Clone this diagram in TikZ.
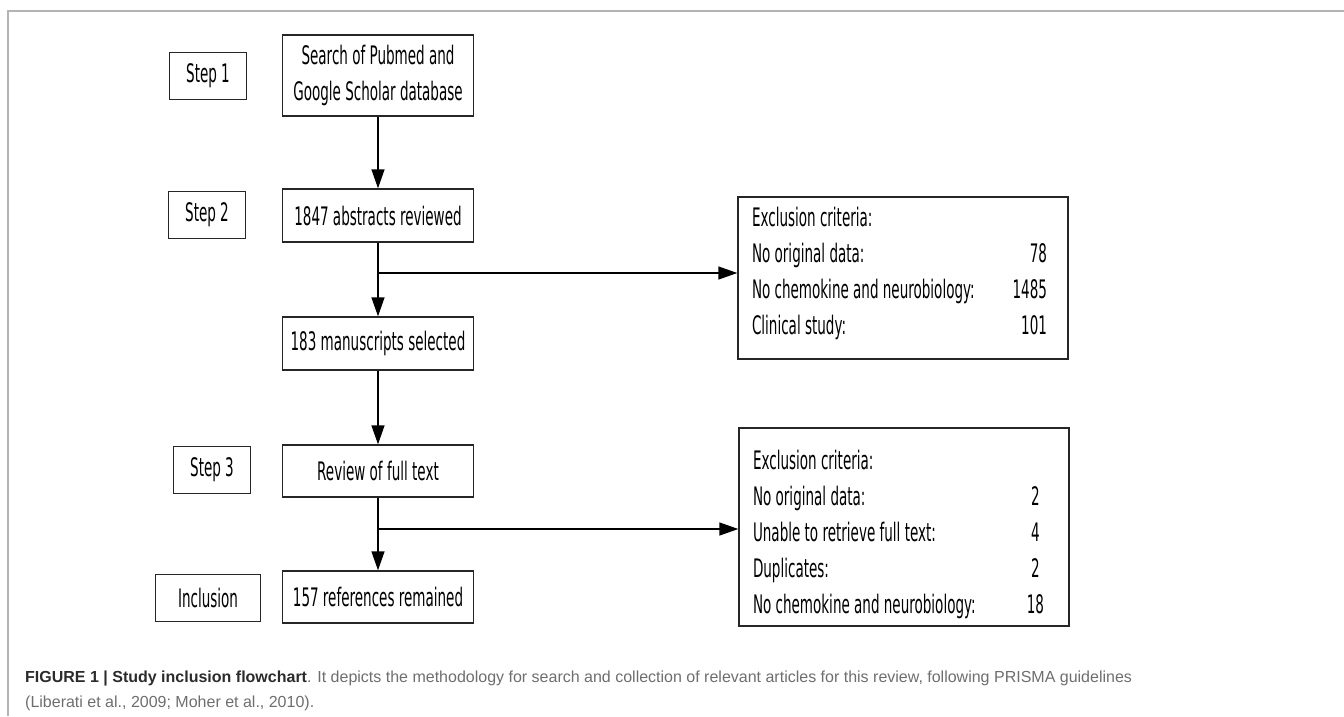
\documentclass[tikz,border=0pt]{standalone}
\usepackage{fontspec}
\setmainfont{Liberation Sans}
\newfontfamily\boxfont[FakeStretch=0.53]{DejaVu Sans}
\usetikzlibrary{arrows.meta}
\definecolor{framegray}{HTML}{B4B4B4}
\definecolor{capdark}{HTML}{2B2B2B}
\definecolor{caplight}{HTML}{6E6E6E}
\begin{document}
\begin{tikzpicture}[x=1pt,y=-1pt,
    box/.style={draw=black!85,line width=1.4pt,minimum width=191pt,minimum height=53pt,
      inner sep=0pt,align=center,font=\boxfont\fontsize{25.5}{36}\selectfont},
    stepbox/.style={box,minimum width=77pt,minimum height=47pt},
    exbox/.style={draw=black!85,line width=1.4pt,minimum width=330pt,inner xsep=14pt,
      font=\boxfont\fontsize{25.5}{36}\selectfont},
    arr/.style={line width=1.4pt,-{Triangle[length=19pt,width=13pt]}}]
  \useasboundingbox (0,0) rectangle (1344,716);
  \draw[framegray,line width=2pt] (8,716) -- (8,11) -- (1344,11);
  \node[stepbox] (step1) at (208,76) {Step 1};
  \node[stepbox] (step2) at (207,215) {Step 2};
  \node[stepbox] (step3) at (212,470) {Step 3};
  \node[stepbox,minimum width=105pt] (inclusion) at (208,598) {Inclusion};
  \node[box,minimum height=81pt] (search) at (378,75.5) {Search of Pubmed and\\Google Scholar database};
  \node[box] (abstracts) at (378,215.5) {1847 abstracts reviewed};
  \node[box] (manuscripts) at (378,343.5) {183 manuscripts selected};
  \node[box,minimum height=52pt] (fulltext) at (378,471) {Review of full text};
  \node[box,minimum height=52pt] (remained) at (378,597) {157 references remained};
  \node[exbox,inner ysep=4pt,minimum height=162pt] (excl1) at (903,278) {%
    \begin{tabular*}{302pt}{@{}l@{\extracolsep{\fill}}r@{\extracolsep{0pt}\hspace{7pt}}}
      Exclusion criteria: & \\
      No original data: & 78\\
      No chemokine and neurobiology: & 1485\\
      Clinical study: & 101\\[10pt]
    \end{tabular*}};
  \node[exbox,inner ysep=2pt,minimum height=198pt] (excl2) at (904,527) {%
    \begin{tabular*}{302pt}{@{}l@{\extracolsep{\fill}}c@{\extracolsep{0pt}\hspace{11pt}}}
      \noalign{\vskip 14pt}
      Exclusion criteria: & \\
      No original data: & 2\\
      Unable to retrieve full text: & 4\\
      Duplicates: & 2\\
      No chemokine and neurobiology: & 18
    \end{tabular*}};
  \coordinate (branch1) at (378,273);
  \coordinate (branch2) at (378,529);
  \draw[arr] (search) -- (abstracts);
  \draw[arr] (abstracts) -- (manuscripts);
  \draw[arr] (branch1) -- (branch1 -| excl1.west);
  \draw[arr] (manuscripts) -- (fulltext);
  \draw[arr] (fulltext) -- (remained);
  \draw[arr] (branch2) -- (branch2 -| excl2.west);
  \node[anchor=base west,align=left,inner sep=0pt,font=\fontsize{16}{25}\selectfont,text=caplight] (caption) at (25,707)
    {{\color{capdark}\bfseries FIGURE 1 | Study inclusion flowchart}. It depicts the methodology for search and collection of relevant articles for this review, following PRISMA guidelines\\
     (Liberati et al., 2009; Moher et al., 2010).};
\end{tikzpicture}
\end{document}
